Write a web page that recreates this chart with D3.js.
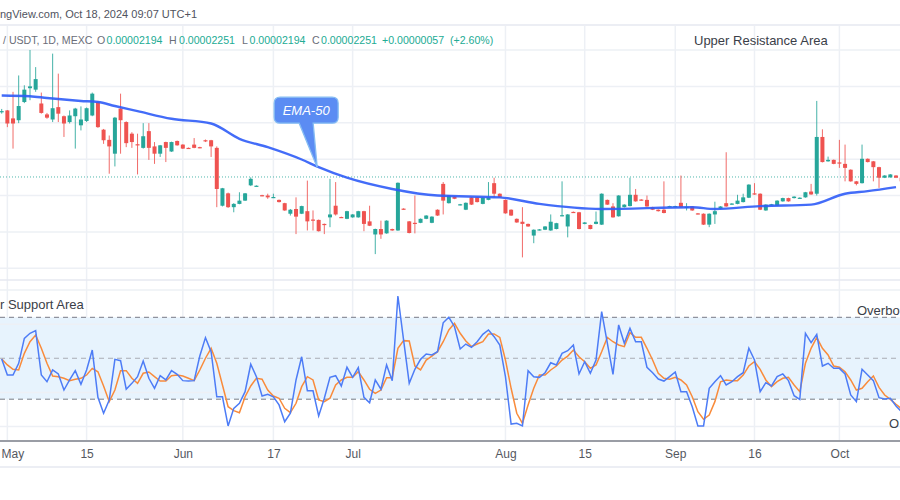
<!DOCTYPE html>
<html><head><meta charset="utf-8">
<script src="https://cdn.jsdelivr.net/npm/d3@7"></script>
<style>html,body{margin:0;padding:0;background:#fff;overflow:hidden}text{font-family:"Liberation Sans",Arial,sans-serif}</style>
</head><body><svg id="c" width="900" height="500"></svg>
<script>
// ---- data (prices in units of 1e-6 USDT) ----
const open = [24.30,24.34,24.12,24.07,24.57,24.95,24.91,24.53,24.23,24.09, 24.43,24.18,24.02,24.18,23.93,24.05,24.20,24.57,23.81,23.53, 23.15,24.39,24.02,23.70,23.41,23.31,23.77,23.35,23.15,23.47, 23.21,23.50,23.40,23.31,23.40,23.33,23.52,23.52,23.31,21.72, 22.06,21.68,21.77,21.86,22.28,22.26,22.01,22.00,21.94,21.88, 21.79,21.50,21.63,21.50,21.57,21.34,21.33,21.22,21.40,21.72, 21.41,21.36,21.40,21.40,21.57,21.29,20.93,21.08,20.96,21.08, 21.04,21.64,21.29,21.25,21.25,21.36,21.25,21.61,22.32,21.79, 21.97,21.74,21.61,21.95,21.95,21.77,21.88,22.34,22.05,21.88, 21.61,21.36,21.28,21.22,20.90,21.05,21.06,21.04,21.08,21.44, 21.15,21.55,21.54,21.22,21.19,21.22,21.20,21.88,21.70,21.43, 21.68,21.71,22.02,21.89,21.88,21.68,21.61,21.61,21.69,21.69, 21.80,21.67,21.70,21.51,21.50,21.20,21.48,21.64,21.79,21.76, 21.77,21.82,21.94,22.06,22.05,21.59,21.74,21.72,21.84,21.93, 21.93,21.92,21.95,22.11,22.05,23.61,22.94,22.98,22.91,22.87, 22.71,22.39,22.34,23.01,22.94,22.78,22.49,22.50,22.55,22.49];
const high = [24.38,24.35,24.85,25.30,25.03,26.00,25.53,24.83,24.27,25.90, 25.35,24.20,24.34,24.41,24.45,24.42,24.83,24.60,23.83,23.65, 24.16,24.80,24.04,23.74,23.70,23.99,23.99,23.47,23.39,23.48, 23.48,23.51,23.41,23.32,23.58,23.34,23.54,23.53,23.35,22.21, 22.08,21.79,22.09,22.07,22.50,22.28,22.02,22.05,22.05,21.89, 21.80,21.63,21.95,21.72,22.41,21.59,21.34,21.23,22.46,22.37, 21.42,21.58,21.49,21.58,21.58,21.72,21.09,21.31,21.32,21.09, 22.36,21.65,21.30,22.00,21.37,21.46,21.43,21.62,22.37,22.01, 21.98,21.77,21.81,21.96,21.96,21.95,22.37,22.49,22.06,21.89, 21.62,21.37,21.68,21.23,21.07,21.08,21.16,21.48,21.25,22.39, 21.49,21.56,21.55,21.27,21.20,21.56,22.06,21.89,21.79,22.01, 21.76,22.49,22.18,21.90,22.00,21.69,21.62,22.39,21.72,21.72, 22.55,21.79,21.71,21.52,21.51,21.51,21.83,21.71,23.19,21.79, 22.02,22.05,22.31,22.34,22.06,21.76,21.77,21.87,21.94,21.94, 21.98,21.95,22.10,22.32,24.60,23.82,23.07,22.99,23.53,23.40, 22.72,22.40,23.40,23.02,22.95,22.79,22.56,22.59,22.56,22.50];
const low = [24.25,23.88,23.29,23.99,24.54,24.62,24.85,24.25,24.11,24.02, 24.02,23.61,23.98,23.29,23.79,24.02,24.18,23.86,23.42,22.60, 22.80,23.15,23.33,23.31,22.58,23.29,22.98,22.87,23.06,22.92, 23.20,23.37,23.28,23.29,23.30,23.30,23.47,23.06,21.68,21.70, 21.66,21.54,21.76,21.85,22.26,22.25,21.98,21.91,21.93,21.81, 21.58,21.45,20.94,21.49,21.04,21.04,21.01,20.94,21.13,21.45, 21.39,21.35,21.39,21.39,21.02,21.16,20.39,20.81,20.95,21.03, 21.03,21.61,20.96,20.96,21.24,21.35,21.24,21.44,21.48,21.78, 21.90,21.73,21.60,21.74,21.81,21.76,21.87,21.95,21.94,21.50, 21.44,21.25,20.30,21.14,20.69,21.04,21.05,21.03,21.07,21.43, 20.85,21.52,21.07,21.21,21.07,21.21,21.19,21.74,21.39,21.42, 21.67,21.70,21.83,21.86,21.69,21.60,21.56,21.51,21.68,21.68, 21.67,21.59,21.58,21.48,21.19,21.13,21.22,21.63,21.69,21.75, 21.76,21.81,21.93,22.02,21.60,21.58,21.73,21.71,21.83,21.83, 21.92,21.91,21.94,22.02,22.00,22.91,22.93,22.86,22.76,22.39, 22.38,22.28,22.33,22.91,22.39,22.21,22.48,22.49,22.48,22.36];
const close = [24.32,23.98,23.98,24.46,24.91,25.00,25.20,24.27,24.14,24.40, 24.25,23.98,24.20,24.39,24.09,24.40,24.80,23.88,23.52,23.35, 24.14,24.07,23.44,23.47,23.40,23.63,23.31,23.15,23.38,23.31, 23.47,23.38,23.29,23.30,23.31,23.31,23.49,23.35,22.18,22.20, 21.68,21.77,21.86,22.06,22.46,22.27,21.99,21.95,21.96,21.82, 21.59,21.61,21.42,21.71,21.29,21.32,21.02,21.19,21.48,21.48, 21.40,21.57,21.48,21.57,21.22,21.17,21.08,20.93,21.31,21.04, 22.35,21.62,20.97,21.23,21.36,21.45,21.42,21.45,21.86,22.00, 21.91,21.76,21.80,21.75,21.82,21.94,21.95,22.05,21.95,21.51, 21.45,21.26,21.22,21.15,21.06,21.07,21.15,21.28,21.24,21.46, 21.48,21.53,21.08,21.26,21.08,21.28,22.05,21.75,21.40,22.00, 21.75,22.02,21.84,21.87,21.70,21.61,21.57,21.52,21.71,21.71, 21.68,21.69,21.59,21.49,21.20,21.50,21.57,21.70,21.70,21.78, 21.86,21.95,22.30,22.03,21.61,21.75,21.76,21.86,21.93,21.84, 21.97,21.94,22.09,22.03,23.61,22.92,22.98,22.87,22.89,22.76, 22.39,22.32,23.01,22.92,22.78,22.49,22.55,22.58,22.49,22.39];
const emaIdx = [0,5,8,14,17,20,24,30,37,42,47,53,56,61,69,77,88,95,106,122,126,134,143,149,153,158];
const emaVal = [24.75,24.73,24.68,24.60,24.57,24.46,24.32,24.11,23.98,23.56,23.33,22.99,22.78,22.49,22.18,22.00,21.95,21.77,21.63,21.68,21.63,21.71,21.75,22.05,22.12,22.23];
const stochK = [49.5,37.7,37.7,46.3,64.6,68.3,70.2,37.7,32.8,41.4,38.5,26.7,34.1,40.9,30.9,41.4,56.0,21.4,9.7,19.4,49.2,48.2,27.3,31.6,36.5,48.0,35.3,28.0,37.2,34.1,40.9,38.2,33.6,33.3,33.6,51.6,65.1,54.8,21.8,21.8,0.4,13.3,17.0,25.5,45.6,36.5,22.3,23.6,21.8,15.8,3.5,9.7,34.1,
 51.1,26.2,26.2,7.7,20.7,36.0,37.2,29.7,43.4,36.0,43.1,21.4,17.4,34.1,27.3,45.1,33.6,95.6,63.4,31.6,41.9,49.2,53.1,52.4,54.8,76.0,80.0,73.1,56.8,60.4,58.0,62.1,67.5,70.7,65.8,59.7,36.5,1.8,2.3,0.4,40.9,36.5,36.0,39.4,46.7,45.1,53.6,55.5,59.7,38.5,47.5,39.0,48.7,
 84.1,61.0,38.2,74.4,61.0,71.9,62.1,62.1,43.4,39.4,34.8,33.3,36.5,39.9,25.5,25.5,14.5,0.4,0.4,28.0,32.8,37.2,30.4,32.8,36.5,39.4,57.3,48.7,25.5,32.1,29.7,36.5,38.5,33.6,22.6,19.9,68.3,61.4,67.5,44.3,46.3,42.6,42.6,38.5,23.1,18.2,41.9,37.7,33.6,21.1,20.1,20.7,15.0,10.8];
const stochD = [49.5,45.1,41.9,41.4,53.6,62.1,67.0,57.3,46.3,37.0,36.5,35.3,33.6,34.6,35.3,37.7,42.6,40.1,29.7,18.2,26.7,40.9,40.9,35.3,31.6,39.0,39.9,36.5,33.3,33.3,37.2,37.7,37.0,35.3,33.6,41.4,50.0,57.3,46.3,30.4,14.5,11.6,10.1,21.8,29.7,35.3,34.6,26.7,22.3,20.7,13.3,10.1,17.0,
 29.2,36.5,34.1,19.4,18.2,20.7,30.4,34.1,36.0,36.0,40.1,34.1,27.3,24.3,26.7,35.8,35.8,57.3,62.9,62.6,44.3,41.4,48.7,51.6,54.8,62.1,70.7,75.6,68.3,62.6,58.5,60.4,62.1,67.8,67.8,65.3,48.7,28.0,9.7,2.3,15.8,28.0,37.7,37.7,41.4,44.3,48.7,51.6,56.0,51.1,47.5,42.6,45.1,
 54.8,65.3,62.1,59.7,58.5,68.7,65.3,65.3,57.3,48.7,39.0,35.3,34.6,36.0,34.1,30.4,21.8,10.8,5.3,8.4,18.2,32.8,34.1,33.6,33.6,37.7,44.3,47.5,41.9,34.1,29.2,32.8,35.3,36.0,30.4,25.5,46.3,57.3,65.3,57.3,52.4,44.3,43.4,40.1,34.1,26.7,28.0,32.8,37.0,28.7,23.1,19.9,16.3,13.0];
const tickIdx = [1,15,32,48,62,89,103,119,133,148];
const tickLabels = ["May","15","Jun","17","Jul","Aug","15","Sep","16","Oct"];
const priceTicks = [20,21,22,23,24,25,26];
const stochGrid = [0,25,75,100];
const stochLevels = [80,50,20];
const lastClose = 22.51;

// ---- drawing ----
const W = 900, H = 500;
const svg = d3.select("#c");
const x = d3.scaleLinear().domain([0,158]).range([1.7,896]);
const y = d3.scaleLinear().domain([20,26]).range([268.3,50]);
const yo = d3.scaleLinear().domain([0,100]).range([426.5,290]);
const UP = "#26a69a", DOWN = "#ef5350", GRID = "#edf0f5";

const defs = svg.append("defs");
defs.append("clipPath").attr("id","mainClip").append("rect").attr("x",0).attr("y",26).attr("width",W).attr("height",253);
defs.append("clipPath").attr("id","oscClip").append("rect").attr("x",0).attr("y",282).attr("width",W).attr("height",158);

// vertical grid
svg.append("g").selectAll("line").data(tickIdx).join("line")
  .attr("x1",d=>x(d)).attr("x2",d=>x(d)).attr("y1",26).attr("y2",440)
  .attr("stroke",GRID).attr("stroke-width",1.5);
// price grid
svg.append("g").selectAll("line").data(priceTicks).join("line")
  .attr("x1",0).attr("x2",W).attr("y1",d=>y(d)).attr("y2",d=>y(d))
  .attr("stroke",GRID).attr("stroke-width",1.5);
// header separator, pane separator, bottom line
svg.append("line").attr("x1",0).attr("x2",W).attr("y1",25).attr("y2",25).attr("stroke","#e6e9f0").attr("stroke-width",1.5);
svg.append("line").attr("x1",0).attr("x2",W).attr("y1",280).attr("y2",280).attr("stroke","#e6e9f0").attr("stroke-width",1.5);
svg.append("line").attr("x1",0).attr("x2",W).attr("y1",467).attr("y2",467).attr("stroke","#e6e9f0").attr("stroke-width",1.5);

// current price dotted line
svg.append("line").attr("x1",0).attr("x2",W).attr("y1",y(lastClose)).attr("y2",y(lastClose))
  .attr("stroke",UP).attr("stroke-width",1).attr("stroke-dasharray","1,2").attr("opacity",0.8);

// candles
const candles = d3.range(open.length).map(i=>({i,o:open[i],h:high[i],l:low[i],c:close[i]}));
const cg = svg.append("g").attr("clip-path","url(#mainClip)");
const cs = cg.selectAll("g.cd").data(candles).join("g").attr("class","cd");
cs.append("line").attr("x1",d=>x(d.i)).attr("x2",d=>x(d.i))
  .attr("y1",d=>y(d.h)).attr("y2",d=>y(d.l))
  .attr("stroke",d=>d.c>=d.o?UP:DOWN).attr("stroke-width",1).attr("opacity",0.85);
cs.append("rect").attr("x",d=>x(d.i)-2).attr("width",4)
  .attr("y",d=>y(Math.max(d.o,d.c)))
  .attr("height",d=>Math.max(1.2,Math.abs(y(d.o)-y(d.c))))
  .attr("fill",d=>d.c>=d.o?UP:DOWN);

// EMA
const emaData = emaIdx.map((d,k)=>({i:d,v:emaVal[k]}));
cg.append("path").datum(emaData)
  .attr("d",d3.line().x(d=>x(d.i)).y(d=>y(d.v)).curve(d3.curveMonotoneX))
  .attr("fill","none").attr("stroke","#2f5cf7").attr("stroke-width",2.4).attr("opacity",0.9);

// EMA callout
const anchor = emaData.find(d=>d.i===56);
const tx = x(anchor.i)-1.5, ty = y(anchor.v);
const l = tx-43, r = tx+21, t = ty-70, b = ty-44, rr = 6;
const p = d3.path();
p.moveTo(l+rr,t); p.lineTo(r-rr,t); p.quadraticCurveTo(r,t,r,t+rr);
p.lineTo(r,b-rr); p.quadraticCurveTo(r,b,r-rr,b);
p.lineTo(tx-4,b); p.lineTo(tx,ty); p.lineTo(tx-18,b);
p.lineTo(l+rr,b); p.quadraticCurveTo(l,b,l,b-rr); p.lineTo(l,t+rr); p.quadraticCurveTo(l,t,l+rr,t); p.closePath();
svg.append("path").attr("d",p.toString()).attr("fill","#5b8cf3").attr("stroke","#86bdf3").attr("stroke-width",1.3);
svg.append("text").attr("x",(l+r)/2).attr("y",(t+b)/2+4.5).attr("text-anchor","middle")
  .attr("fill","#ffffff").attr("font-size",13).attr("font-style","italic").text("EMA-50");

// oscillator pane
svg.append("rect").attr("x",0).attr("width",W).attr("y",yo(80)).attr("height",yo(20)-yo(80)).attr("fill","#e7f3fd");
svg.append("g").selectAll("line").data(stochGrid).join("line")
  .attr("x1",0).attr("x2",W).attr("y1",d=>yo(d)).attr("y2",d=>yo(d))
  .attr("stroke",GRID).attr("stroke-width",1.5);
svg.append("g").selectAll("line").data(stochLevels).join("line")
  .attr("x1",0).attr("x2",W).attr("y1",d=>yo(d)).attr("y2",d=>yo(d))
  .attr("stroke",d=>d===50?"#a9acb4":"#787b86").attr("stroke-width",1).attr("stroke-dasharray","5,4");
const og = svg.append("g").attr("clip-path","url(#oscClip)");
og.append("path").datum(stochD).attr("d",d3.line().x((d,i)=>x(i)).y(d=>yo(d)))
  .attr("fill","none").attr("stroke","#f98b3b").attr("stroke-width",1.5);
og.append("path").datum(stochK).attr("d",d3.line().x((d,i)=>x(i)).y(d=>yo(d)))
  .attr("fill","none").attr("stroke","#4d7cf6").attr("stroke-width",1.5);

// x axis
const ax = svg.append("g").attr("transform","translate(0,441)")
  .call(d3.axisBottom(x).tickValues(tickIdx).tickFormat((d,i)=>tickLabels[i]).tickSize(0).tickPadding(8));
ax.select(".domain").remove();
ax.selectAll("text").attr("font-size",12).attr("fill","#55585f").attr("font-family","Liberation Sans, Arial, sans-serif");
// keep edge labels inside the canvas
ax.selectAll(".tick").each(function(d){
  const tEl = d3.select(this).select("text");
  const bb = this.getBBox();
  const left = x(d) + bb.x;
  if (left < 1) tEl.attr("dx", (1-left)+"px");
});
svg.append("line").attr("x1",0).attr("x2",W).attr("y1",441).attr("y2",441).attr("stroke","#9a9da5").attr("stroke-width",2);

// texts
svg.append("text").attr("x",0).attr("y",18).attr("font-size",11).attr("fill","#50535e")
  .text("ngView.com, Oct 18, 2024 09:07 UTC+1");
const hdr = [
  {t:"/ USDT, 1D, MEXC",x:3,c:"#6a6d78"},
  {t:"O",x:97,c:"#6a6d78"},{t:"0.00002194",x:106.5,c:"#22ab94"},
  {t:"H",x:169,c:"#6a6d78"},{t:"0.00002251",x:179,c:"#22ab94"},
  {t:"L",x:242,c:"#6a6d78"},{t:"0.00002194",x:249.5,c:"#22ab94"},
  {t:"C",x:312,c:"#6a6d78"},{t:"0.00002251",x:321,c:"#22ab94"},
  {t:"+0.00000057",x:382,c:"#22ab94"},{t:"(+2.60%)",x:450,c:"#22ab94"}];
svg.append("g").selectAll("text").data(hdr).join("text")
  .attr("x",d=>d.x).attr("y",44).attr("font-size",10.6).attr("fill",d=>d.c).text(d=>d.t);
svg.append("text").attr("x",694).attr("y",45).attr("font-size",13).attr("fill","#3a3e48").text("Upper Resistance Area");
svg.append("text").attr("x",0).attr("y",309).attr("font-size",13).attr("fill","#3a3e48").text("r Support Area");
svg.append("text").attr("x",857).attr("y",315).attr("font-size",13).attr("fill","#3a3e48").text("Overbo");
svg.append("text").attr("x",889).attr("y",427.5).attr("font-size",13).attr("fill","#3a3e48").text("O");
</script>
</body></html>
